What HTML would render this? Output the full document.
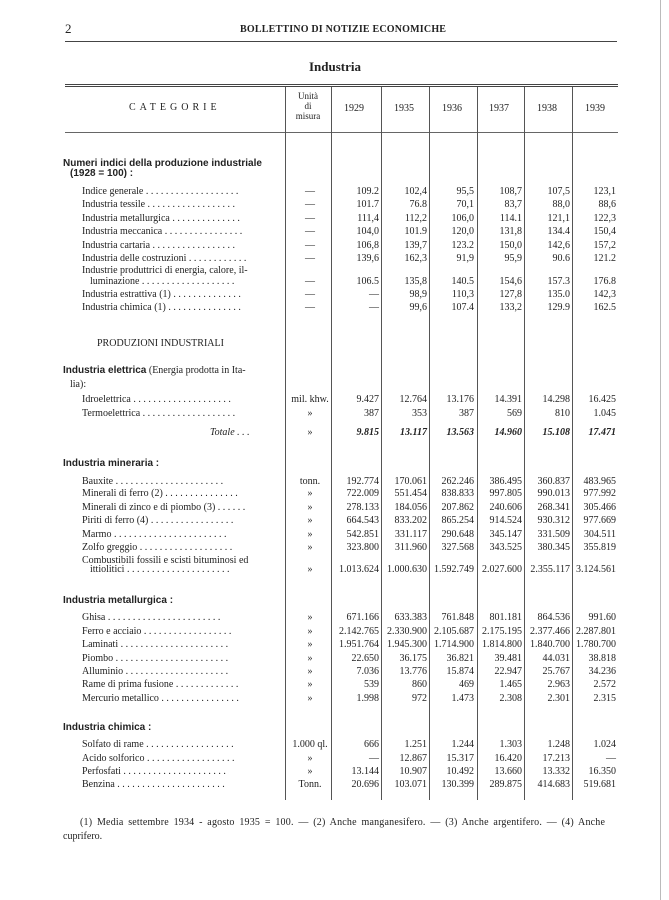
<!DOCTYPE html>
<html><head><meta charset="utf-8"><style>
body{margin:0;background:#fff;}
#p{position:relative;width:669px;height:900px;overflow:hidden;background:#fff;color:#222;font-family:"Liberation Serif",serif;font-size:10px;}
.a{position:absolute;white-space:nowrap;}
.h{position:absolute;background:#444;}
.v{position:absolute;width:1px;background:#555;top:87px;height:713px;}
.r{position:absolute;left:0;width:669px;height:13px;line-height:13px;}
.r span{position:absolute;white-space:nowrap;}
.l{left:82px;width:200px;overflow:hidden;}
.u{left:287px;width:46px;text-align:center;}
.c1,.c2,.c3,.c4,.c5,.c6{text-align:right;width:60px;}
.c1{left:319px}.c2{left:367px}.c3{left:414px}.c4{left:462px}.c5{left:510px}.c6{left:556px}
.b{font-family:"Liberation Sans",sans-serif;font-weight:bold;font-size:10px;}
.s{font-weight:bold;}
</style></head><body><div id="p">
<div class="a" style="left:65px;top:21px;font-size:13px;">2</div>
<div class="a" style="left:240px;top:24px;font-size:10px;font-weight:bold;letter-spacing:0.2px;">BOLLETTINO DI NOTIZIE ECONOMICHE</div>
<div class="h" style="left:65px;top:41px;width:552px;height:1px;"></div>
<div class="a" style="left:309px;top:59px;font-size:13px;font-weight:bold;">Industria</div>
<div class="h" style="left:65px;top:84px;width:553px;height:1px;"></div>
<div class="h" style="left:65px;top:86px;width:553px;height:1px;"></div>
<div class="h" style="left:65px;top:132px;width:553px;height:1px;background:#666;"></div>
<div class="h" style="left:660px;top:0;width:1px;height:900px;background:#bbb;"></div>
<div class="v" style="left:285px"></div><div class="v" style="left:331px"></div><div class="v" style="left:381px"></div><div class="v" style="left:429px"></div><div class="v" style="left:477px"></div><div class="v" style="left:524px"></div><div class="v" style="left:572px"></div>
<div class="a" style="left:129px;top:102px;letter-spacing:4px;">CATEGORIE</div>
<div class="a" style="left:288px;top:91px;width:40px;text-align:center;line-height:10px;font-size:9px;">Unità<br>di<br>misura</div>
<div class="a" style="left:344px;top:103px;">1929</div><div class="a" style="left:394px;top:103px;">1935</div><div class="a" style="left:442px;top:103px;">1936</div><div class="a" style="left:489px;top:103px;">1937</div><div class="a" style="left:537px;top:103px;">1938</div><div class="a" style="left:585px;top:103px;">1939</div>

<div class="r" style="top:157px"><span class="b" style="left:63px">Numeri indici della produzione industriale</span></div>
<div class="r" style="top:167px"><span class="b" style="left:70px">(1928 = 100) :</span></div>
<div class="r" style="top:185px"><span class="l">Indice generale . . . . . . . . . . . . . . . . . . .</span><span class="u">—</span><span class="c1">109.2</span><span class="c2">102,4</span><span class="c3">95,5</span><span class="c4">108,7</span><span class="c5">107,5</span><span class="c6">123,1</span></div>
<div class="r" style="top:198px"><span class="l">Industria tessile . . . . . . . . . . . . . . . . . .</span><span class="u">—</span><span class="c1">101.7</span><span class="c2">76.8</span><span class="c3">70,1</span><span class="c4">83,7</span><span class="c5">88,0</span><span class="c6">88,6</span></div>
<div class="r" style="top:212px"><span class="l">Industria metallurgica . . . . . . . . . . . . . .</span><span class="u">—</span><span class="c1">111,4</span><span class="c2">112,2</span><span class="c3">106,0</span><span class="c4">114.1</span><span class="c5">121,1</span><span class="c6">122,3</span></div>
<div class="r" style="top:225px"><span class="l">Industria meccanica . . . . . . . . . . . . . . . .</span><span class="u">—</span><span class="c1">104,0</span><span class="c2">101.9</span><span class="c3">120,0</span><span class="c4">131,8</span><span class="c5">134.4</span><span class="c6">150,4</span></div>
<div class="r" style="top:239px"><span class="l">Industria cartaria . . . . . . . . . . . . . . . . .</span><span class="u">—</span><span class="c1">106,8</span><span class="c2">139,7</span><span class="c3">123.2</span><span class="c4">150,0</span><span class="c5">142,6</span><span class="c6">157,2</span></div>
<div class="r" style="top:252px"><span class="l">Industria delle costruzioni . . . . . . . . . . . .</span><span class="u">—</span><span class="c1">139,6</span><span class="c2">162,3</span><span class="c3">91,9</span><span class="c4">95,9</span><span class="c5">90.6</span><span class="c6">121.2</span></div>
<div class="r" style="top:264px"><span class="l">Industrie produttrici di energia, calore, il-</span></div>
<div class="r" style="top:275px"><span class="l" style="left:90px;width:192px">luminazione . . . . . . . . . . . . . . . . . . .</span><span class="u">—</span><span class="c1">106.5</span><span class="c2">135,8</span><span class="c3">140.5</span><span class="c4">154,6</span><span class="c5">157.3</span><span class="c6">176.8</span></div>
<div class="r" style="top:288px"><span class="l">Industria estrattiva (1) . . . . . . . . . . . . . .</span><span class="u">—</span><span class="c1">—</span><span class="c2">98,9</span><span class="c3">110,3</span><span class="c4">127,8</span><span class="c5">135.0</span><span class="c6">142,3</span></div>
<div class="r" style="top:301px"><span class="l">Industria chimica (1) . . . . . . . . . . . . . . .</span><span class="u">—</span><span class="c1">—</span><span class="c2">99,6</span><span class="c3">107.4</span><span class="c4">133,2</span><span class="c5">129.9</span><span class="c6">162.5</span></div>

<div class="r" style="top:337px"><span style="left:97px">PRODUZIONI INDUSTRIALI</span></div>
<div class="r" style="top:364px"><span style="left:63px"><b class="b">Industria elettrica</b> (Energia prodotta in Ita-</span></div>
<div class="r" style="top:378px"><span style="left:70px">lia):</span></div>
<div class="r" style="top:393px"><span class="l">Idroelettrica . . . . . . . . . . . . . . . . . . . .</span><span class="u">mil. khw.</span><span class="c1">9.427</span><span class="c2">12.764</span><span class="c3">13.176</span><span class="c4">14.391</span><span class="c5">14.298</span><span class="c6">16.425</span></div>
<div class="r" style="top:407px"><span class="l">Termoelettrica . . . . . . . . . . . . . . . . . . .</span><span class="u">»</span><span class="c1">387</span><span class="c2">353</span><span class="c3">387</span><span class="c4">569</span><span class="c5">810</span><span class="c6">1.045</span></div>
<div class="r" style="top:426px;font-style:italic"><span style="left:210px">Totale . . .</span><span class="u" style="font-style:normal">»</span><span class="c1 s">9.815</span><span class="c2 s">13.117</span><span class="c3 s">13.563</span><span class="c4 s">14.960</span><span class="c5 s">15.108</span><span class="c6 s">17.471</span></div>

<div class="r" style="top:457px"><span class="b" style="left:63px">Industria mineraria :</span></div>
<div class="r" style="top:475px"><span class="l">Bauxite . . . . . . . . . . . . . . . . . . . . . .</span><span class="u">tonn.</span><span class="c1">192.774</span><span class="c2">170.061</span><span class="c3">262.246</span><span class="c4">386.495</span><span class="c5">360.837</span><span class="c6">483.965</span></div>
<div class="r" style="top:487px"><span class="l">Minerali di ferro (2) . . . . . . . . . . . . . . .</span><span class="u">»</span><span class="c1">722.009</span><span class="c2">551.454</span><span class="c3">838.833</span><span class="c4">997.805</span><span class="c5">990.013</span><span class="c6">977.992</span></div>
<div class="r" style="top:501px"><span class="l">Minerali di zinco e di piombo (3) . . . . . .</span><span class="u">»</span><span class="c1">278.133</span><span class="c2">184.056</span><span class="c3">207.862</span><span class="c4">240.606</span><span class="c5">268.341</span><span class="c6">305.466</span></div>
<div class="r" style="top:514px"><span class="l">Piriti di ferro (4) . . . . . . . . . . . . . . . . .</span><span class="u">»</span><span class="c1">664.543</span><span class="c2">833.202</span><span class="c3">865.254</span><span class="c4">914.524</span><span class="c5">930.312</span><span class="c6">977.669</span></div>
<div class="r" style="top:528px"><span class="l">Marmo . . . . . . . . . . . . . . . . . . . . . . .</span><span class="u">»</span><span class="c1">542.851</span><span class="c2">331.117</span><span class="c3">290.648</span><span class="c4">345.147</span><span class="c5">331.509</span><span class="c6">304.511</span></div>
<div class="r" style="top:541px"><span class="l">Zolfo greggio . . . . . . . . . . . . . . . . . . .</span><span class="u">»</span><span class="c1">323.800</span><span class="c2">311.960</span><span class="c3">327.568</span><span class="c4">343.525</span><span class="c5">380.345</span><span class="c6">355.819</span></div>
<div class="r" style="top:554px"><span class="l">Combustibili fossili e scisti bituminosi ed</span></div>
<div class="r" style="top:563px"><span class="l" style="left:90px;width:192px">ittiolitici . . . . . . . . . . . . . . . . . . . . .</span><span class="u">»</span><span class="c1">1.013.624</span><span class="c2">1.000.630</span><span class="c3">1.592.749</span><span class="c4">2.027.600</span><span class="c5">2.355.117</span><span class="c6">3.124.561</span></div>

<div class="r" style="top:594px"><span class="b" style="left:63px">Industria metallurgica :</span></div>
<div class="r" style="top:611px"><span class="l">Ghisa . . . . . . . . . . . . . . . . . . . . . . .</span><span class="u">»</span><span class="c1">671.166</span><span class="c2">633.383</span><span class="c3">761.848</span><span class="c4">801.181</span><span class="c5">864.536</span><span class="c6">991.60</span></div>
<div class="r" style="top:625px"><span class="l">Ferro e acciaio . . . . . . . . . . . . . . . . . .</span><span class="u">»</span><span class="c1">2.142.765</span><span class="c2">2.330.900</span><span class="c3">2.105.687</span><span class="c4">2.175.195</span><span class="c5">2.377.466</span><span class="c6">2.287.801</span></div>
<div class="r" style="top:638px"><span class="l">Laminati . . . . . . . . . . . . . . . . . . . . . .</span><span class="u">»</span><span class="c1">1.951.764</span><span class="c2">1.945.300</span><span class="c3">1.714.900</span><span class="c4">1.814.800</span><span class="c5">1.840.700</span><span class="c6">1.780.700</span></div>
<div class="r" style="top:652px"><span class="l">Piombo . . . . . . . . . . . . . . . . . . . . . . .</span><span class="u">»</span><span class="c1">22.650</span><span class="c2">36.175</span><span class="c3">36.821</span><span class="c4">39.481</span><span class="c5">44.031</span><span class="c6">38.818</span></div>
<div class="r" style="top:665px"><span class="l">Alluminio . . . . . . . . . . . . . . . . . . . . .</span><span class="u">»</span><span class="c1">7.036</span><span class="c2">13.776</span><span class="c3">15.874</span><span class="c4">22.947</span><span class="c5">25.767</span><span class="c6">34.236</span></div>
<div class="r" style="top:678px"><span class="l">Rame di prima fusione . . . . . . . . . . . . .</span><span class="u">»</span><span class="c1">539</span><span class="c2">860</span><span class="c3">469</span><span class="c4">1.465</span><span class="c5">2.963</span><span class="c6">2.572</span></div>
<div class="r" style="top:692px"><span class="l">Mercurio metallico . . . . . . . . . . . . . . . .</span><span class="u">»</span><span class="c1">1.998</span><span class="c2">972</span><span class="c3">1.473</span><span class="c4">2.308</span><span class="c5">2.301</span><span class="c6">2.315</span></div>

<div class="r" style="top:721px"><span class="b" style="left:63px">Industria chimica :</span></div>
<div class="r" style="top:738px"><span class="l">Solfato di rame . . . . . . . . . . . . . . . . . .</span><span class="u">1.000 ql.</span><span class="c1">666</span><span class="c2">1.251</span><span class="c3">1.244</span><span class="c4">1.303</span><span class="c5">1.248</span><span class="c6">1.024</span></div>
<div class="r" style="top:752px"><span class="l">Acido solforico . . . . . . . . . . . . . . . . . .</span><span class="u">»</span><span class="c1">—</span><span class="c2">12.867</span><span class="c3">15.317</span><span class="c4">16.420</span><span class="c5">17.213</span><span class="c6">—</span></div>
<div class="r" style="top:765px"><span class="l">Perfosfati . . . . . . . . . . . . . . . . . . . . .</span><span class="u">»</span><span class="c1">13.144</span><span class="c2">10.907</span><span class="c3">10.492</span><span class="c4">13.660</span><span class="c5">13.332</span><span class="c6">16.350</span></div>
<div class="r" style="top:778px"><span class="l">Benzina . . . . . . . . . . . . . . . . . . . . . .</span><span class="u">Tonn.</span><span class="c1">20.696</span><span class="c2">103.071</span><span class="c3">130.399</span><span class="c4">289.875</span><span class="c5">414.683</span><span class="c6">519.681</span></div>

<div class="a" style="left:80px;top:817px;word-spacing:2px;letter-spacing:0.2px;">(1) Media settembre 1934 - agosto 1935 = 100. — (2) Anche manganesifero. — (3) Anche argentifero. — (4) Anche</div>
<div class="a" style="left:63px;top:831px;">cuprifero.</div>
</div></body></html>
